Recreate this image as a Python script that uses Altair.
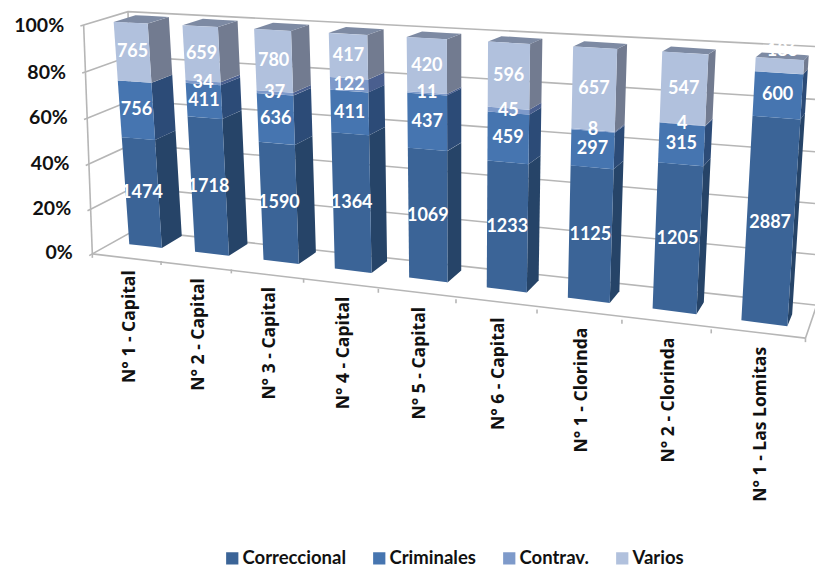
import numpy as np
import pandas as pd
import altair as alt

categories = ["N° 1 - Capital", "N° 2 - Capital", "N° 3 - Capital", "N° 4 - Capital", "N° 5 - Capital",
              "N° 6 - Capital", "N° 1 - Clorinda", "N° 2 - Clorinda", "N° 1 - Las Lomitas"]
series = ["Correccional", "Criminales", "Contrav.", "Varios"]
correccional = [1474, 1718, 1590, 1364, 1069, 1233, 1125, 1205, 2887]
criminales = [756, 411, 636, 411, 437, 459, 297, 315, 600]
contrav = [0, 34, 37, 122, 11, 45, 8, 4, 0]
varios = [765, 659, 780, 417, 420, 596, 657, 547, 186]
y_ticks = [0, 20, 40, 60, 80, 100]

front_colors = ["#3b6497", "#4675b0", "#7e9aca", "#b1c1dd"]
side_colors = ["#264468", "#2c4b77", "#4a5f8f", "#727b90"]
top_color = "#7d8aa3"
grid_color = "#b6b6b6"

# Perspective of the Excel 3-D view: (slot, depth, height) -> page pixel
bar_front = [
    [(129, 244), (162, 247), (114, 23), (147, 24), (169, 17), (182, 237)],
    [(195, 252), (230, 256), (183, 24), (218, 25), (238, 22), (247, 242)],
    [(263, 261), (299, 264), (253, 29), (291, 30), (309, 25), (315, 252)],
    [(335, 268), (372, 274), (329, 33), (368, 35), (383, 30), (387, 262)],
    [(409, 278), (448, 283), (406, 37), (447, 39), (462, 34), (462, 270)],
    [(486, 288), (527, 293), (488, 42), (530, 44), (543, 38), (539, 278)],
    [(567, 298), (610, 303), (573, 47), (617, 50), (627, 44), (619, 291)],
    [(653, 308), (697, 314), (663, 52), (707, 54), (716, 48), (703, 303)],
    [(741, 319), (788, 325), (756, 57), (804, 61), (809, 55), (792, 317)],
]
frame_calib = [
    ((0, 0, 0), (97, 252)), ((1, 0, 0), (163, 260)), ((2, 0, 0), (231, 270)), ((3, 0, 0), (303, 279)),
    ((4, 0, 0), (378, 289)), ((5, 0, 0), (456, 299)), ((6, 0, 0), (537, 309)), ((7, 0, 0), (622, 319)),
    ((8, 0, 0), (712, 331)), ((9, 0, 0), (806, 338)), ((0, 0, 1), (78, 24)), ((0, 1, 0), (128, 234)),
    ((0, 1, 1), (135, 11)), ((9, 1, 0), (817, 303)), ((9, 1, 1), (830, 49)),
]


def fit_projection(pairs, basis):
    worlds = np.array([[u, d * 5, h * 5, 1.0] for (u, d, h), _ in pairs])
    pix = np.array([p for _, p in pairs], float) / 500
    weights = np.ones(len(pairs))
    m = None
    for _ in range(40):
        rows = []
        for w, (X, Y), g in zip(worlds, pix, weights):
            rows.append(np.r_[w, 0, 0, 0, 0, -X * w] * g)
            rows.append(np.r_[0, 0, 0, 0, w, -Y * w] * g)
        m = np.linalg.svd(np.array(rows))[2][-1].reshape(3, 4)
        denominators = worlds @ m[2]
        weights = 1 / np.abs(denominators)
        weights = weights / weights.mean()

    def raw(u, d, h):
        p = m @ np.array([u, d * 5, h * 5, 1.0])
        return np.array([p[0] / p[2] * 500, p[1] / p[2] * 500])

    # smooth correction for what the pure perspective leaves over
    B = np.array([basis(*w) for w, _ in pairs], float)
    res = np.array([np.array(p, float) - raw(*w) for w, p in pairs])
    coef = np.linalg.lstsq(B, res, rcond=None)[0]

    def project(u, d, h):
        q = raw(u, d, h) + np.array(basis(u, d, h), float) @ coef
        return float(q[0]), float(q[1])
    return project


bar_pairs = []
for i, c in enumerate(bar_front):
    L, R = i + 0.25, i + 0.75
    worlds = [(L, 0, 0), (R, 0, 0), (L, 0, 1), (R, 0, 1), (R, 1, 1), (R, 1, 0)]
    bar_pairs += list(zip(worlds, c))
bar_p = fit_projection(bar_pairs, lambda u, d, h: [1, u, u**2, u**3, h, h * u, h * u**2, d, d * u])
frame_p = fit_projection(frame_calib, lambda u, d, h: [1, u, u**2, u**3, h])


def polygon_rows(pid, verts, **extra):
    xs = sorted({round(v[0], 3) for v in verts})
    out = []
    n = len(verts)
    for x in xs:
        ys = []
        for k in range(n):
            (x0, y0), (x1, y1) = verts[k], verts[(k + 1) % n]
            if min(x0, x1) - 0.002 <= x <= max(x0, x1) + 0.002:
                t = 0.0 if abs(x1 - x0) < 1e-6 else min(1.0, max(0.0, (x - x0) / (x1 - x0)))
                ys.append(y0 + t * (y1 - y0))
        out.append(dict(pid=pid, px=x, y0=min(ys), y1=max(ys), **extra))
    return out


table = list(zip(correccional, criminales, contrav, varios))
front_rows, back_rows, label_rows = [], [], []
for i, vals in enumerate(table):
    total = sum(vals)
    L, R = i + 0.25, i + 0.75
    low = 0.0
    for s, v in enumerate(vals):
        if v == 0:
            continue
        high = low + v / total
        front_rows += polygon_rows(f"f{i}{s}", [bar_p(L, 0, low), bar_p(R, 0, low), bar_p(R, 0, high), bar_p(L, 0, high)],
                                   series=series[s])
        back_rows += polygon_rows(f"s{i}{s}", [bar_p(R, 0, low), bar_p(R, 1, low), bar_p(R, 1, high), bar_p(R, 0, high)],
                                  fill=side_colors[s])
        cx, cy = bar_p(i + 0.5, 0, (low + high) / 2)
        if v == 186:  # the reference pushes this label above its thin segment
            cx, cy = cx + 3, cy - 15
        label_rows.append(dict(px=cx, py=cy, label=str(v)))
        low = high
    back_rows += polygon_rows(f"t{i}", [bar_p(L, 0, 1), bar_p(R, 0, 1), bar_p(R, 1, 1), bar_p(L, 1, 1)], fill=top_color)

line_rows = []
def add_line(pid, pts):
    for k, (x, y) in enumerate(pts):
        line_rows.append(dict(pid=pid, k=k, px=x, py=y))

ytick_rows = []
for t in y_ticks:
    h = t / 100
    add_line(f"g{t}", [frame_p(0, -0.07, h), frame_p(0, 0, h), frame_p(0, 1, h), frame_p(9, 1, h)])
    ex, ey = frame_p(0, 0, h)
    ytick_rows.append(dict(px=ex - 19.5, py=ey - 1 + 2 * h, label=f"{t}%"))
add_line("axis", [frame_p(0, 0, 0), frame_p(0, 0, 1)])
add_line("back", [frame_p(0, 1, 0), frame_p(0, 1, 1)])
add_line("front", [frame_p(0, 0, 0), frame_p(9, 0, 0)])
add_line("right", [frame_p(9, 0, 0), frame_p(9, 1, 0)])
cat_rows = []
for u in range(10):
    x, y = frame_p(u, 0, 0)
    add_line(f"t{u}", [(x, y), (x, y + 4)])
for i, c in enumerate(categories):
    x, y = frame_p(i + 0.5, 0, 0)
    cat_rows.append(dict(px=x + 3, py=y + 13, label=c))

X = alt.X("px:Q", scale=alt.Scale(domain=[8, 815], nice=False, zero=False), axis=None)
Y = alt.Y("py:Q", scale=alt.Scale(domain=[567, 8], nice=False, zero=False), axis=None)
AY = alt.Y("y0:Q", scale=alt.Scale(domain=[567, 8], nice=False, zero=False), axis=None)

lines = alt.Chart(pd.DataFrame(line_rows)).mark_line(color=grid_color, strokeWidth=1.6, clip=True).encode(
    x=X, y=Y, detail="pid:N", order="k:Q")
backs = alt.Chart(pd.DataFrame(back_rows)).mark_area(line=False, interpolate="linear").encode(
    x=X, y=AY, y2="y1:Q", detail="pid:N", color=alt.Color("fill:N", scale=None))
fronts = alt.Chart(pd.DataFrame(front_rows)).mark_area(interpolate="linear").encode(
    x=X, y=AY, y2="y1:Q", detail="pid:N",
    color=alt.Color("series:N", sort=series, scale=alt.Scale(domain=series, range=front_colors),
                    legend=alt.Legend(title=None, orient="none", legendX=215, legendY=541, direction="horizontal",
                                      columns=4, columnPadding=24, symbolType="square", symbolSize=150,
                                      symbolStrokeWidth=0, labelFont="Lato", labelFontWeight="bold",
                                      labelFontSize=18.5, labelColor="#111111", labelOffset=1)))
labels = alt.Chart(pd.DataFrame(label_rows)).mark_text(font="Lato", fontWeight="bold", fontSize=18, color="white").encode(
    x=X, y=Y, text="label:N")
yt = alt.Chart(pd.DataFrame(ytick_rows)).mark_text(font="Lato", fontWeight="bold", fontSize=19.5, color="#111111", align="right").encode(
    x=X, y=Y, text="label:N")
cats = alt.Chart(pd.DataFrame(cat_rows)).mark_text(font="Open Sans", fontWeight="bold", fontSize=17.5, color="#111111",
                                                    angle=270, align="right", baseline="middle").encode(
    x=X, y=Y, text="label:N")

chart = alt.layer(lines, backs, fronts, labels, yt, cats).properties(
    width=807, height=559, padding=0, autosize=alt.AutoSizeParams(type="none")
).configure_view(strokeWidth=0)
chart.save("out.html", embed_options={"renderer": "svg", "actions": False})
